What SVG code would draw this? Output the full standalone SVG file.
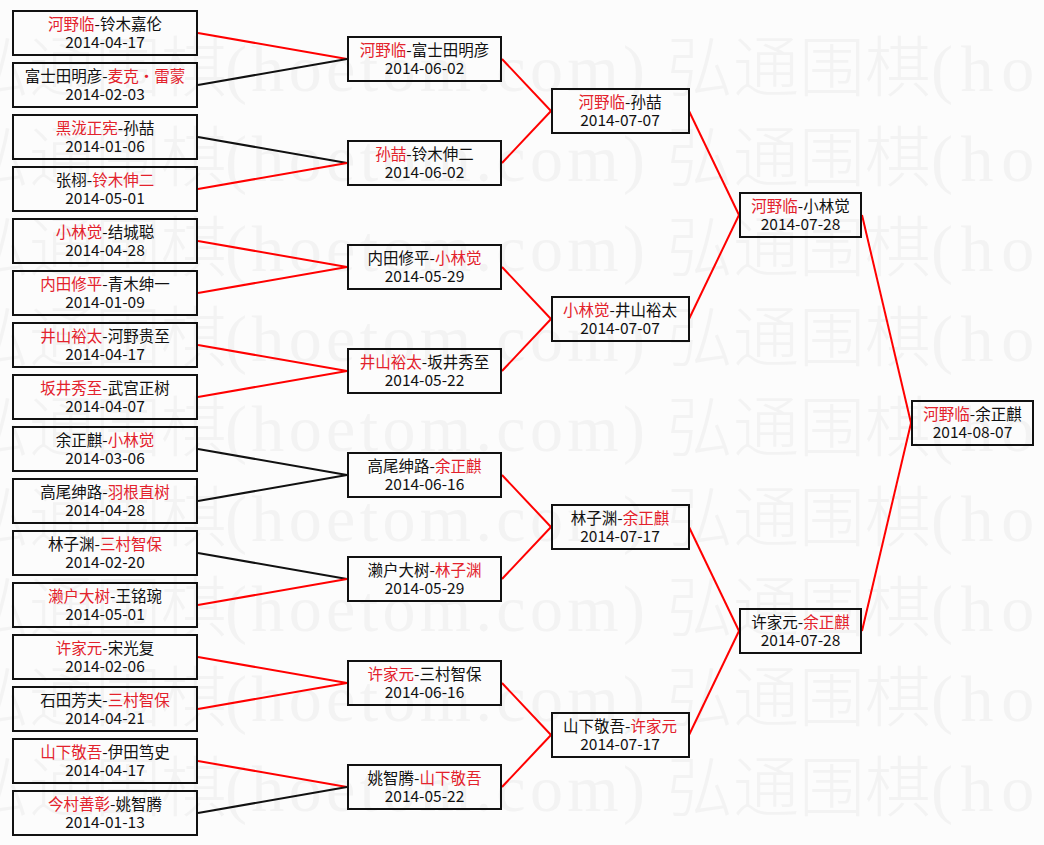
<svg xmlns="http://www.w3.org/2000/svg" width="1044" height="845" viewBox="0 0 1044 845">
<style>
.bg{fill:#fcfcfc}
.wm{font-family:"Noto Sans CJK SC","Noto Sans",sans-serif;font-size:66px;font-weight:300;fill:#f3f3f3}
.wml{font-family:"Liberation Serif",serif;font-size:66px;fill:#f3f3f3}
.box{fill:none;stroke:#111;stroke-width:2}
.t{font-family:"Noto Sans CJK SC","Noto Sans",sans-serif;font-size:15.5px;fill:#111;text-anchor:middle}
.r{fill:#e3222c}
.cr{stroke:#f00;stroke-width:2;fill:none}
.ck{stroke:#111;stroke-width:2;fill:none}
</style>
<rect class="bg" x="0" y="0" width="1044" height="845"/>
<g id="watermark">
<text class="wm" x="-37" y="91">弘通围棋</text><text class="wml" x="225" y="91" textLength="420">(hoetom.com)</text><text class="wm" x="667" y="91">弘通围棋</text><text class="wml" x="931" y="91" textLength="140">(hoe</text>
<text class="wm" x="-37" y="181">弘通围棋</text><text class="wml" x="225" y="181" textLength="420">(hoetom.com)</text><text class="wm" x="667" y="181">弘通围棋</text><text class="wml" x="931" y="181" textLength="140">(hoe</text>
<text class="wm" x="-37" y="271">弘通围棋</text><text class="wml" x="225" y="271" textLength="420">(hoetom.com)</text><text class="wm" x="667" y="271">弘通围棋</text><text class="wml" x="931" y="271" textLength="140">(hoe</text>
<text class="wm" x="-37" y="361">弘通围棋</text><text class="wml" x="225" y="361" textLength="420">(hoetom.com)</text><text class="wm" x="667" y="361">弘通围棋</text><text class="wml" x="931" y="361" textLength="140">(hoe</text>
<text class="wm" x="-37" y="451">弘通围棋</text><text class="wml" x="225" y="451" textLength="420">(hoetom.com)</text><text class="wm" x="667" y="451">弘通围棋</text><text class="wml" x="931" y="451" textLength="140">(hoe</text>
<text class="wm" x="-37" y="541">弘通围棋</text><text class="wml" x="225" y="541" textLength="420">(hoetom.com)</text><text class="wm" x="667" y="541">弘通围棋</text><text class="wml" x="931" y="541" textLength="140">(hoe</text>
<text class="wm" x="-37" y="631">弘通围棋</text><text class="wml" x="225" y="631" textLength="420">(hoetom.com)</text><text class="wm" x="667" y="631">弘通围棋</text><text class="wml" x="931" y="631" textLength="140">(hoe</text>
<text class="wm" x="-37" y="721">弘通围棋</text><text class="wml" x="225" y="721" textLength="420">(hoetom.com)</text><text class="wm" x="667" y="721">弘通围棋</text><text class="wml" x="931" y="721" textLength="140">(hoe</text>
<text class="wm" x="-37" y="811">弘通围棋</text><text class="wml" x="225" y="811" textLength="420">(hoetom.com)</text><text class="wm" x="667" y="811">弘通围棋</text><text class="wml" x="931" y="811" textLength="140">(hoe</text>
</g>
<g id="connectors">
<line class="cr" x1="198" y1="33" x2="347" y2="59"/>
<line class="ck" x1="198" y1="85" x2="347" y2="59"/>
<line class="ck" x1="198" y1="137" x2="347" y2="163"/>
<line class="cr" x1="198" y1="189" x2="347" y2="163"/>
<line class="cr" x1="198" y1="241" x2="347" y2="267"/>
<line class="cr" x1="198" y1="293" x2="347" y2="267"/>
<line class="cr" x1="198" y1="345" x2="347" y2="371"/>
<line class="cr" x1="198" y1="397" x2="347" y2="371"/>
<line class="ck" x1="198" y1="449" x2="347" y2="475"/>
<line class="ck" x1="198" y1="501" x2="347" y2="475"/>
<line class="ck" x1="198" y1="553" x2="347" y2="579"/>
<line class="cr" x1="198" y1="605" x2="347" y2="579"/>
<line class="cr" x1="198" y1="657" x2="347" y2="683"/>
<line class="cr" x1="198" y1="709" x2="347" y2="683"/>
<line class="cr" x1="198" y1="761" x2="347" y2="787"/>
<line class="ck" x1="198" y1="813" x2="347" y2="787"/>
<line class="cr" x1="502" y1="59" x2="551" y2="111"/>
<line class="cr" x1="502" y1="163" x2="551" y2="111"/>
<line class="cr" x1="502" y1="267" x2="551" y2="319"/>
<line class="cr" x1="502" y1="371" x2="551" y2="319"/>
<line class="cr" x1="502" y1="475" x2="551" y2="527"/>
<line class="cr" x1="502" y1="579" x2="551" y2="527"/>
<line class="cr" x1="502" y1="683" x2="551" y2="735"/>
<line class="cr" x1="502" y1="787" x2="551" y2="735"/>
<line class="cr" x1="689" y1="111" x2="739" y2="215"/>
<line class="cr" x1="689" y1="319" x2="739" y2="215"/>
<line class="cr" x1="689" y1="527" x2="739" y2="631"/>
<line class="cr" x1="689" y1="735" x2="739" y2="631"/>
<line class="cr" x1="862" y1="215" x2="911" y2="423"/>
<line class="cr" x1="862" y1="631" x2="911" y2="423"/>
</g>
<g id="r1-1"><rect class="box" x="13" y="11" width="184" height="44"/><text class="t" x="105" y="30"><tspan class="r">河野临</tspan>-铃木嘉伦</text><text class="t" x="105" y="48">2014-04-17</text></g>
<g id="r1-2"><rect class="box" x="13" y="63" width="184" height="44"/><text class="t" x="105" y="82">富士田明彦-<tspan class="r">麦克・雷蒙</tspan></text><text class="t" x="105" y="100">2014-02-03</text></g>
<g id="r1-3"><rect class="box" x="13" y="115" width="184" height="44"/><text class="t" x="105" y="134"><tspan class="r">黑泷正宪</tspan>-孙喆</text><text class="t" x="105" y="152">2014-01-06</text></g>
<g id="r1-4"><rect class="box" x="13" y="167" width="184" height="44"/><text class="t" x="105" y="186">张栩-<tspan class="r">铃木伸二</tspan></text><text class="t" x="105" y="204">2014-05-01</text></g>
<g id="r1-5"><rect class="box" x="13" y="219" width="184" height="44"/><text class="t" x="105" y="238"><tspan class="r">小林觉</tspan>-结城聪</text><text class="t" x="105" y="256">2014-04-28</text></g>
<g id="r1-6"><rect class="box" x="13" y="271" width="184" height="44"/><text class="t" x="105" y="290"><tspan class="r">内田修平</tspan>-青木绅一</text><text class="t" x="105" y="308">2014-01-09</text></g>
<g id="r1-7"><rect class="box" x="13" y="323" width="184" height="44"/><text class="t" x="105" y="342"><tspan class="r">井山裕太</tspan>-河野贵至</text><text class="t" x="105" y="360">2014-04-17</text></g>
<g id="r1-8"><rect class="box" x="13" y="375" width="184" height="44"/><text class="t" x="105" y="394"><tspan class="r">坂井秀至</tspan>-武宫正树</text><text class="t" x="105" y="412">2014-04-07</text></g>
<g id="r1-9"><rect class="box" x="13" y="427" width="184" height="44"/><text class="t" x="105" y="446">余正麒-<tspan class="r">小林觉</tspan></text><text class="t" x="105" y="464">2014-03-06</text></g>
<g id="r1-10"><rect class="box" x="13" y="479" width="184" height="44"/><text class="t" x="105" y="498">高尾绅路-<tspan class="r">羽根直树</tspan></text><text class="t" x="105" y="516">2014-04-28</text></g>
<g id="r1-11"><rect class="box" x="13" y="531" width="184" height="44"/><text class="t" x="105" y="550">林子渊-<tspan class="r">三村智保</tspan></text><text class="t" x="105" y="568">2014-02-20</text></g>
<g id="r1-12"><rect class="box" x="13" y="583" width="184" height="44"/><text class="t" x="105" y="602"><tspan class="r">濑户大树</tspan>-王铭琬</text><text class="t" x="105" y="620">2014-05-01</text></g>
<g id="r1-13"><rect class="box" x="13" y="635" width="184" height="44"/><text class="t" x="105" y="654"><tspan class="r">许家元</tspan>-宋光复</text><text class="t" x="105" y="672">2014-02-06</text></g>
<g id="r1-14"><rect class="box" x="13" y="687" width="184" height="44"/><text class="t" x="105" y="706">石田芳夫-<tspan class="r">三村智保</tspan></text><text class="t" x="105" y="724">2014-04-21</text></g>
<g id="r1-15"><rect class="box" x="13" y="739" width="184" height="44"/><text class="t" x="105" y="758"><tspan class="r">山下敬吾</tspan>-伊田笃史</text><text class="t" x="105" y="776">2014-04-17</text></g>
<g id="r1-16"><rect class="box" x="13" y="791" width="184" height="44"/><text class="t" x="105" y="810"><tspan class="r">今村善彰</tspan>-姚智腾</text><text class="t" x="105" y="828">2014-01-13</text></g>
<g id="r2-1"><rect class="box" x="348" y="37" width="153" height="44"/><text class="t" x="424.5" y="56"><tspan class="r">河野临</tspan>-富士田明彦</text><text class="t" x="424.5" y="74">2014-06-02</text></g>
<g id="r2-2"><rect class="box" x="348" y="141" width="153" height="44"/><text class="t" x="424.5" y="160"><tspan class="r">孙喆</tspan>-铃木伸二</text><text class="t" x="424.5" y="178">2014-06-02</text></g>
<g id="r2-3"><rect class="box" x="348" y="245" width="153" height="44"/><text class="t" x="424.5" y="264">内田修平-<tspan class="r">小林觉</tspan></text><text class="t" x="424.5" y="282">2014-05-29</text></g>
<g id="r2-4"><rect class="box" x="348" y="349" width="153" height="44"/><text class="t" x="424.5" y="368"><tspan class="r">井山裕太</tspan>-坂井秀至</text><text class="t" x="424.5" y="386">2014-05-22</text></g>
<g id="r2-5"><rect class="box" x="348" y="453" width="153" height="44"/><text class="t" x="424.5" y="472">高尾绅路-<tspan class="r">余正麒</tspan></text><text class="t" x="424.5" y="490">2014-06-16</text></g>
<g id="r2-6"><rect class="box" x="348" y="557" width="153" height="44"/><text class="t" x="424.5" y="576">濑户大树-<tspan class="r">林子渊</tspan></text><text class="t" x="424.5" y="594">2014-05-29</text></g>
<g id="r2-7"><rect class="box" x="348" y="661" width="153" height="44"/><text class="t" x="424.5" y="680"><tspan class="r">许家元</tspan>-三村智保</text><text class="t" x="424.5" y="698">2014-06-16</text></g>
<g id="r2-8"><rect class="box" x="348" y="765" width="153" height="44"/><text class="t" x="424.5" y="784">姚智腾-<tspan class="r">山下敬吾</tspan></text><text class="t" x="424.5" y="802">2014-05-22</text></g>
<g id="r3-1"><rect class="box" x="552" y="89" width="137" height="44"/><text class="t" x="620" y="108"><tspan class="r">河野临</tspan>-孙喆</text><text class="t" x="620" y="126">2014-07-07</text></g>
<g id="r3-2"><rect class="box" x="552" y="297" width="137" height="44"/><text class="t" x="620" y="316"><tspan class="r">小林觉</tspan>-井山裕太</text><text class="t" x="620" y="334">2014-07-07</text></g>
<g id="r3-3"><rect class="box" x="552" y="505" width="137" height="44"/><text class="t" x="620" y="524">林子渊-<tspan class="r">余正麒</tspan></text><text class="t" x="620" y="542">2014-07-17</text></g>
<g id="r3-4"><rect class="box" x="552" y="713" width="137" height="44"/><text class="t" x="620" y="732">山下敬吾-<tspan class="r">许家元</tspan></text><text class="t" x="620" y="750">2014-07-17</text></g>
<g id="r4-1"><rect class="box" x="740" y="193" width="121" height="44"/><text class="t" x="800.5" y="212"><tspan class="r">河野临</tspan>-小林觉</text><text class="t" x="800.5" y="230">2014-07-28</text></g>
<g id="r4-2"><rect class="box" x="740" y="609" width="121" height="44"/><text class="t" x="800.5" y="628">许家元-<tspan class="r">余正麒</tspan></text><text class="t" x="800.5" y="646">2014-07-28</text></g>
<g id="final"><rect class="box" x="912" y="401" width="121" height="44"/><text class="t" x="972.5" y="420"><tspan class="r">河野临</tspan>-余正麒</text><text class="t" x="972.5" y="438">2014-08-07</text></g>
</svg>
